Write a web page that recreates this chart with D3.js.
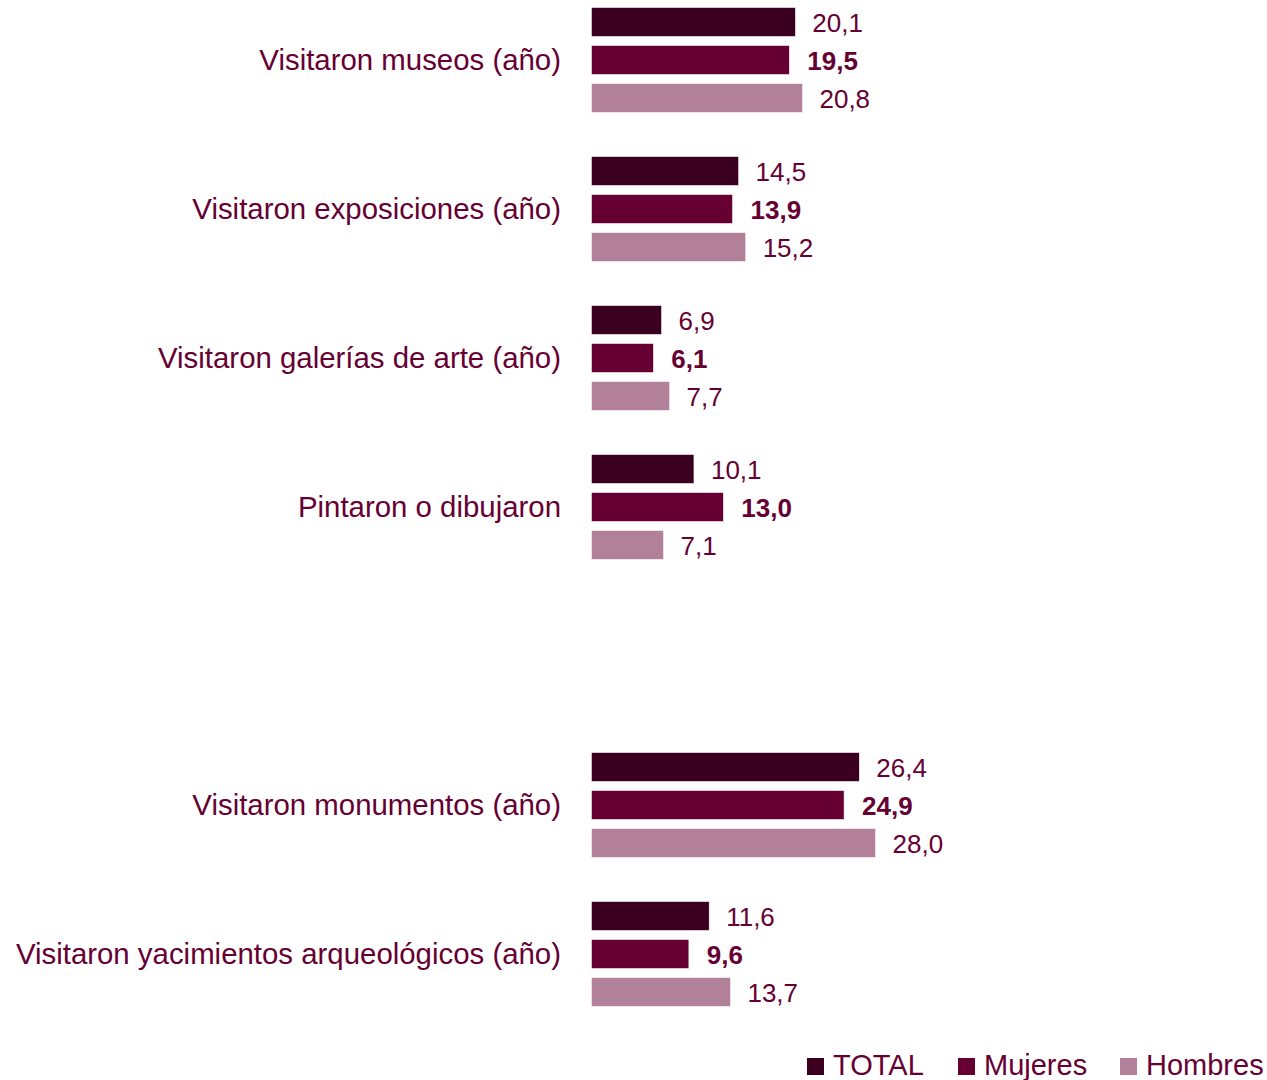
<!DOCTYPE html>
<html><head><meta charset="utf-8">
<script src="https://cdn.jsdelivr.net/npm/d3@7"></script>
<style>body{margin:0;background:#fff}svg{display:block}</style>
</head><body><svg id="c" width="1267" height="1080"></svg>
<script>
const categories = ["Visitaron museos (año)","Visitaron exposiciones (año)","Visitaron galerías de arte (año)","Pintaron o dibujaron","","Visitaron monumentos (año)","Visitaron yacimientos arqueológicos (año)"];
const series = ["TOTAL","Mujeres","Hombres"];
const total   = [20.1,14.5,6.9,10.1,null,26.4,11.6];
const mujeres = [19.5,13.9,6.1,13.0,null,24.9,9.6];
const hombres = [20.8,15.2,7.7,7.1,null,28.0,13.7];
const colors = ["#3b0020","#660033","#b28099"];
const textColor = "#660033";
const values = [total, mujeres, hombres];

const svg = d3.select("#c");
const font = "Liberation Sans, Arial, sans-serif";
const x = d3.scaleLinear().domain([0,28]).range([591.5,875.5]);
const y = d3.scaleBand().domain(d3.range(categories.length)).range([-14.5, 1028.5]);
const ys = d3.scaleBand().domain(series).range([-57,57]).paddingInner(0.24).paddingOuter(0.12);
const fmt = v => d3.format(".1f")(v).replace(".", ",");

categories.forEach((c,i)=>{
  const cy = y(i)+y.bandwidth()/2;
  if (c) {
    svg.append("text").text(c)
      .attr("x",561).attr("y",cy).attr("dy","0.35em").attr("text-anchor","end")
      .attr("font-family",font).attr("font-size",29.4).attr("fill",textColor);
  }
  if (total[i]==null) return;
  series.forEach((s,si)=>{
    const v = values[si][i];
    svg.append("rect").attr("x",x(0)).attr("y",cy+ys(s)).attr("width",x(v)-x(0)).attr("height",ys.bandwidth())
      .attr("fill",colors[si]).attr("stroke","#fff").attr("stroke-width",0.5);
    svg.append("text").text(fmt(v))
      .attr("x",x(v)+(si===1?18:17)).attr("y",cy+ys(s)+ys.bandwidth()/2+1).attr("dy","0.35em")
      .attr("font-family",font).attr("font-size",26).attr("font-weight",si===1?"bold":"normal")
      .attr("fill",textColor);
  });
});

const legX = [807,958,1120];
series.forEach((s,si)=>{
  svg.append("rect").attr("x",legX[si]).attr("y",1058).attr("width",17).attr("height",17).attr("fill",colors[si]);
  svg.append("text").text(s).attr("x",legX[si]+26).attr("y",1075)
    .attr("font-family",font).attr("font-size",29).attr("fill",textColor);
});
</script></body></html>
